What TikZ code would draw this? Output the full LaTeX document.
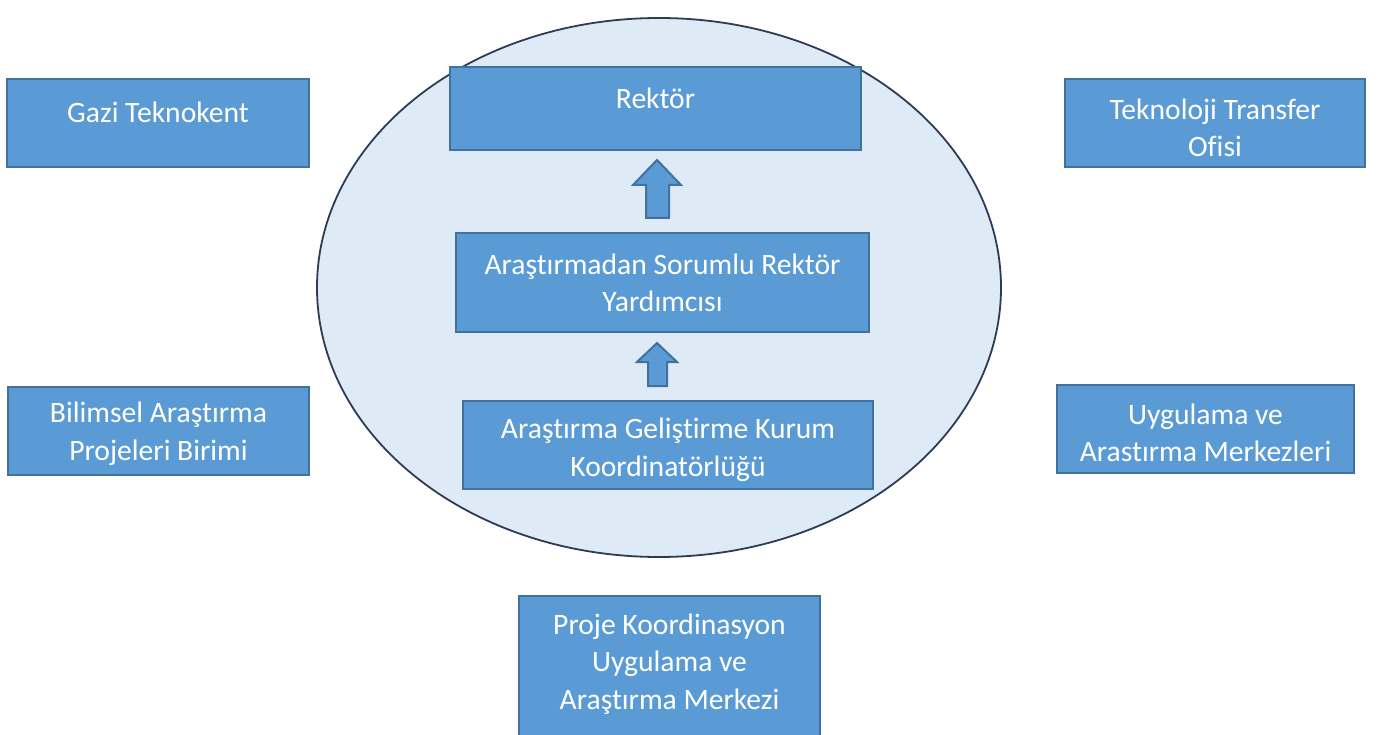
\documentclass[tikz,border=0pt]{standalone}
\usepackage{fontspec}
\usetikzlibrary{shapes.geometric}
\setmainfont{Carlito}[Ligatures=NoCommon]
\definecolor{boxfill}{HTML}{5B9BD5}
\definecolor{boxline}{HTML}{41719C}
\definecolor{ellfill}{HTML}{DEEAF6}
\definecolor{ellline}{HTML}{2E3B55}
\begin{document}
\begin{tikzpicture}[x=1pt,y=-1pt,
  box/.style={draw=boxline,fill=boxfill,line width=2pt,inner sep=0pt},
  txt/.style={text=white,font=\fontsize{29.6}{37.5}\selectfont,align=center,inner sep=0pt},
  blockarrow/.style={draw=boxline,fill=boxfill,line width=2pt,line join=miter}]
\useasboundingbox (0,0) rectangle (1384,735);
\clip (0,0) rectangle (1384,735);
% ellipse
\node[draw=ellline,fill=ellfill,line width=1.8pt,shape=ellipse,minimum width=684pt,minimum height=539pt,inner sep=0pt] (ell) at (659,287.5) {};
% boxes
\node[box,minimum width=411pt,minimum height=83pt] (rek) at (655.5,108.5) {};
\node[box,minimum width=413pt,minimum height=99pt] (ryd) at (662.5,282.5) {};
\node[box,minimum width=410pt,minimum height=88pt] (agk) at (668,445) {};
\node[box,minimum width=302pt,minimum height=88pt] (gazi) at (158,123) {};
\node[box,minimum width=300pt,minimum height=88pt] (ttf) at (1215,123) {};
\node[box,minimum width=301pt,minimum height=88pt] (bap) at (158.5,431) {};
\node[box,minimum width=297pt,minimum height=88pt] (uam) at (1205.5,429) {};
\node[box,minimum width=301pt,minimum height=170pt] (pk) at (669.5,681) {};
% texts
\node[txt] (rekT) at (655.5,98) {Rektör};
\node[txt] (rydT) at (662.5,283) {Araştırmadan Sorumlu Rektör\\Yardımcısı};
\node[txt] (agkT) at (668,450) {Araştırma Geliştirme Kurum\\Koordinatörlüğü};
\node[txt] (gaziT) at (158,112) {Gazi Teknokent};
\node[txt] (ttfT) at (1215,128) {Teknoloji Transfer\\Ofisi};
\node[txt] (bapT) at (158.5,434) {Bilimsel Araştırma\\Projeleri Birimi};
\node[txt] (uamT) at (1205.5,433) {Uygulama ve\\Arastırma Merkezleri};
\node[txt] (pkT) at (669.5,664) {Proje Koordinasyon\\Uygulama ve\\Araştırma Merkezi};
% block arrows
\draw[blockarrow] (657,160) -- (681,185) -- (669,185) -- (669,218) -- (646,218) -- (646,185) -- (633,185) -- cycle;
\draw[blockarrow] (657,343) -- (677,362) -- (667,362) -- (667,386) -- (648,386) -- (648,362) -- (637,362) -- cycle;
\end{tikzpicture}
\end{document}
